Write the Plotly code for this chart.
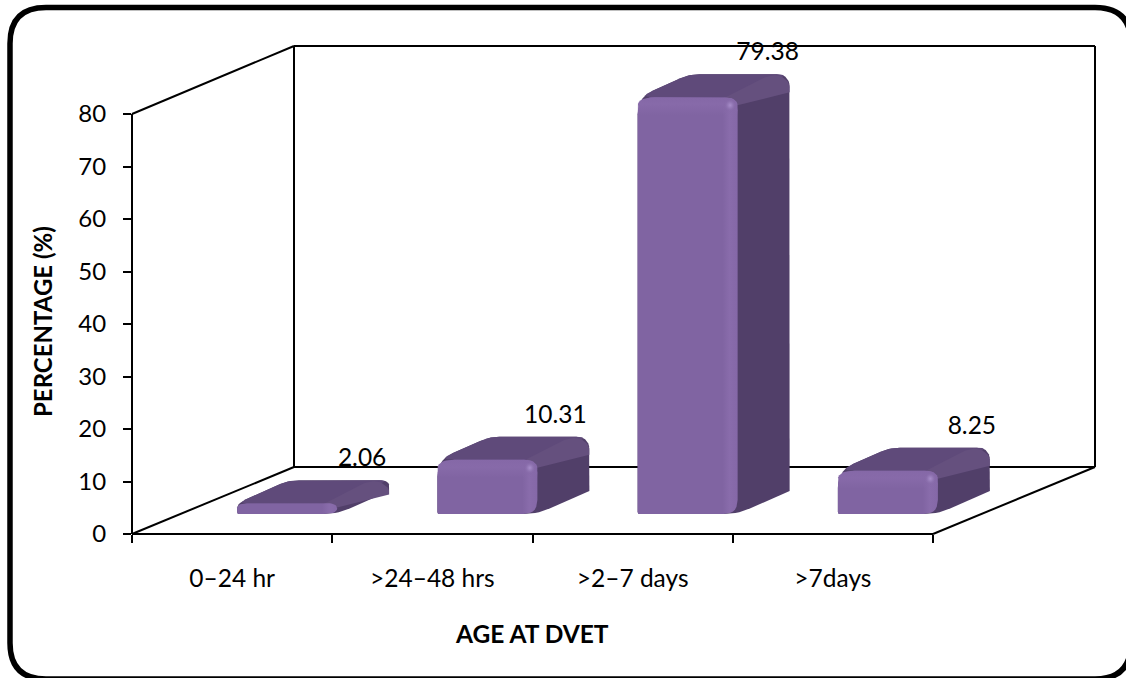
import plotly.graph_objects as go

categories = ["0–24 hr", ">24–48 hrs", ">2–7 days", ">7days"]
percentages = [2.06, 10.31, 79.38, 8.25]
value_labels = ["2.06", "10.31", "79.38", "8.25"]
y_ticks = [0, 10, 20, 30, 40, 50, 60, 70, 80]
x_title = "AGE AT DVET"
y_title = "PERCENTAGE (%)"

FONT = "Lato, Carlito, Calibri, sans-serif"
W, H = 1126, 678
L, R, T, B = 132, 1095, 46, 534        # plot box in page pixels
SX = (933 - 132) / 4                   # pixels per category
SY = (534 - 114) / 80                  # pixels per percent
FLOOR = 20                             # front of bars sits this far above the axis
BAR_W, DX, DY = 100, 52, 23            # bar width and depth, in pixels


def data_x(px):
    return -0.5 + (px - L) / SX


def data_y(py):
    return (B - py) / SY


def round_poly(pts, radii, closed=True, steps=7):
    """Round the corners of a polygon given in pixels; return pixel points."""
    out = []
    n = len(pts)
    for i, p in enumerate(pts):
        r = radii[i]
        if r <= 0:
            out.append(p)
            continue
        a, b = pts[i - 1], pts[(i + 1) % n]

        def toward(q):
            d = ((q[0] - p[0]) ** 2 + (q[1] - p[1]) ** 2) ** 0.5
            t = min(r, d / 2) / d if d else 0
            return (p[0] + (q[0] - p[0]) * t, p[1] + (q[1] - p[1]) * t)

        s, e = toward(a), toward(b)
        for k in range(steps + 1):
            t = k / steps
            out.append((
                (1 - t) ** 2 * s[0] + 2 * t * (1 - t) * p[0] + t * t * e[0],
                (1 - t) ** 2 * s[1] + 2 * t * (1 - t) * p[1] + t * t * e[1],
            ))
    return out


def poly_trace(pts, color=None, gradient=None):
    xs = [data_x(p[0]) for p in pts] + [data_x(pts[0][0])]
    ys = [data_y(p[1]) for p in pts] + [data_y(pts[0][1])]
    kw = dict(fillgradient=gradient) if gradient else dict(fillcolor=color)
    return go.Scatter(x=xs, y=ys, mode="lines", fill="toself", line=dict(width=0),
                      hoverinfo="skip", showlegend=False, **kw)


fig = go.Figure()

for i, v in enumerate(percentages):
    x0 = L + SX * (i + 0.5) + 5
    x1 = x0 + BAR_W
    yb = B - FLOOR
    h = v * SY
    yt = yb - h
    r = min(17, h * 0.9)
    rr = min(13, h * 0.9)
    rb = min(14, h * 0.9 + 4)

    # whole silhouette in the side colour
    sil = [(x0, yb), (x1, yb), (x1 + DX, yb - DY), (x1 + DX, yt - DY), (x0 + DX, yt - DY), (x0, yt)]
    fig.add_trace(poly_trace(round_poly(sil, [2, rb, 0, min(r, 13), min(r, 10), r]), "#513f69"))

    # top face
    top = [(x0, yt), (x1, yt), (x1 + DX, yt - DY), (x0 + DX, yt - DY)]
    fig.add_trace(poly_trace(round_poly(top, [r, 0, min(r, 13), min(r, 10)]), "#5f4a7a"))

    # lighter strip running from the front corner to the back corner, between top and side
    low = min(8, h * 0.4)
    bev = [(x1 - 14, yt + 1), (x1 + 26, yt - 20), (x1 + 41, yt - DY), (x1 + DX, yt - 15),
           (x1 + DX, yt - 15 + low + 2), (x1, yt + low)]
    fig.add_trace(poly_trace(round_poly(bev, [0, 6, min(r, 10), min(r, 6), 0, 0]), "#65507e"))

    # front face with its lighter right edge
    front = [(x0, yb), (x1, yb), (x1, yt), (x0, yt)]
    fig.add_trace(poly_trace(round_poly(front, [2, rb, rr, r]), None, dict(
        type="horizontal",
        colorscale=[[0, "#8064a2"], [0.85, "#8064a2"], [0.92, "#896cab"], [1, "#8568a7"]])))

    # lighter bevel along the top of the front face
    if h > 20:
        strip = [(x0, yt + 18), (x0, yt), (x1, yt), (x1, yt + 18)]
        fig.add_trace(poly_trace(round_poly(strip, [0, r, rr, 0]), None, dict(
            type="vertical",
            colorscale=[[0, "rgba(135,106,169,0)"], [0.6, "rgba(135,106,169,1)"], [1, "rgba(133,104,167,1)"]])))
        # highlight at the bevel corner
        spot = [(x1 - 13, yt + 2), (x1 - 2, yt + 2), (x1 - 2, yt + 14), (x1 - 13, yt + 14)]
        fig.add_trace(poly_trace(round_poly(spot, [4, 4, 4, 4]), None, dict(
            type="radial",
            colorscale=[[0, "#a88dca"], [0.5, "#9277b4"], [1, "rgba(137,108,171,0)"]])))

# value labels sit above the back edge of each bar, in the reference's slightly uneven spots
label_shift = [130, 123, 135, 139]
fig.add_trace(go.Scatter(
    x=[i + s / SX for i, s in enumerate(label_shift)],
    y=[v + (FLOOR + DY + 20) / SY for v in percentages],
    mode="text", text=value_labels, textposition="middle center",
    textfont=dict(family=FONT, size=24.5, color="#000000"),
    hoverinfo="skip", showlegend=False, cliponaxis=False))


def px_paper(x, y):
    return (x - L) / (R - L), (B - y) / (B - T)


def seg(a, b, width=2):
    xa, ya = px_paper(*a)
    xb, yb_ = px_paper(*b)
    return dict(type="line", xref="paper", yref="paper", x0=xa, y0=ya, x1=xb, y1=yb_,
                line=dict(color="#000000", width=width), layer="below")


shapes = [
    seg((294, 46), (1095, 46)), seg((1095, 46), (1095, 467)), seg((1095, 467), (294, 467)),
    seg((294, 467), (294, 46)), seg((132, 114), (294, 46)), seg((132, 534), (294, 467)),
    seg((933, 534), (1095, 467)), seg((132, 534), (933, 534)), seg((132, 114), (132, 534)),
]

# rounded outer frame
fx0, fy0, fx1, fy1, rad = 10, 7.5, 1131, 679, 36
P = lambda x, y: "%.5f %.5f" % px_paper(x, y)
frame = (f"M {P(fx0 + rad, fy0)} L {P(fx1 - rad, fy0)} Q {P(fx1, fy0)} {P(fx1, fy0 + rad)} "
         f"L {P(fx1, fy1 - rad)} Q {P(fx1, fy1)} {P(fx1 - rad, fy1)} "
         f"L {P(fx0 + rad, fy1)} Q {P(fx0, fy1)} {P(fx0, fy1 - rad)} "
         f"L {P(fx0, fy0 + rad)} Q {P(fx0, fy0)} {P(fx0 + rad, fy0)} Z")
shapes.append(dict(type="path", xref="paper", yref="paper", path=frame,
                   line=dict(color="#000000", width=5.5), fillcolor="rgba(0,0,0,0)", layer="below"))

xt_x, _ = px_paper(532, 0)
_, xt_y = px_paper(0, 633)
yt_x, _ = px_paper(42, 0)
_, yt_y = px_paper(0, 322)
annotations = [
    dict(text=f"<b>{x_title}</b>", xref="paper", yref="paper", x=xt_x, y=xt_y, showarrow=False,
         xanchor="center", yanchor="middle", font=dict(family=FONT, size=24.5, color="#000000")),
    dict(text=f"<b>{y_title}</b>", xref="paper", yref="paper", x=yt_x, y=yt_y, showarrow=False,
         textangle=-90, xanchor="center", yanchor="middle",
         font=dict(family=FONT, size=24, color="#000000")),
]

fig.update_layout(
    width=W, height=H, margin=dict(l=L, r=W - R, t=T, b=H - B, pad=0),
    paper_bgcolor="#ffffff", plot_bgcolor="#ffffff", showlegend=False,
    font=dict(family=FONT, color="#000000"), shapes=shapes, annotations=annotations,
    xaxis=dict(
        range=[-0.5, data_x(R)], showgrid=False, zeroline=False, showline=False,
        tickmode="array", tickvals=list(range(len(categories))), ticktext=categories,
        ticks="", tickfont=dict(family=FONT, size=24.5), ticklabelstandoff=27,
        minor=dict(tickmode="array", tickvals=[i - 0.5 for i in range(len(categories) + 1)],
                   ticks="outside", ticklen=8, tickwidth=2, tickcolor="#000000", showgrid=False),
        fixedrange=True,
    ),
    yaxis=dict(
        range=[0, data_y(T)], showgrid=False, zeroline=False, showline=False,
        tickmode="array", tickvals=y_ticks, ticks="outside", ticklen=8, tickwidth=2,
        tickcolor="#000000", tickfont=dict(family=FONT, size=24), ticklabelstandoff=12,
        fixedrange=True,
    ),
)

fig.write_html("out.html", config=dict(displayModeBar=False),
               post_script="document.body.style.margin='0';document.documentElement.style.overflow='hidden';")
